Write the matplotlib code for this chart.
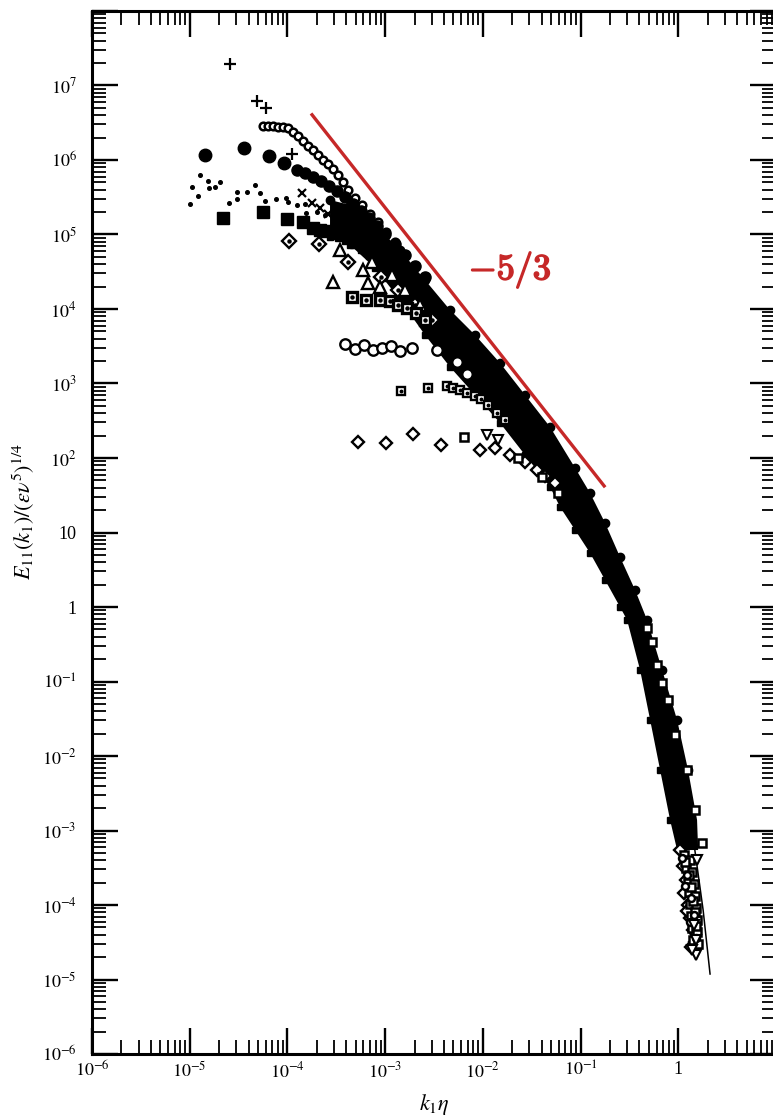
import numpy as np
import matplotlib
matplotlib.use("Agg")
import matplotlib.pyplot as plt
import matplotlib.patheffects as pe
from matplotlib.ticker import LogLocator, NullFormatter

plt.rcParams['font.family'] = ['Liberation Serif', 'DejaVu Serif']
plt.rcParams['mathtext.fontset'] = 'stix'

# all values are log10(k1*eta) and log10(E11/(eps nu^5)^1/4)
plus_k = [-4.588, -4.311, -4.219, -3.953]
plus_E = [7.289, 6.792, 6.698, 6.081]

small_o_k = [-4.250, -4.199, -4.147, -4.096, -4.045, -3.994, -3.943, -3.891, -3.840, -3.789, -3.738, -3.687,
             -3.636, -3.584, -3.533, -3.482, -3.431, -3.380, -3.308, -3.236, -3.155, -3.073, -2.991, -2.899]
small_o_E = [6.456, 6.456, 6.456, 6.443, 6.443, 6.430, 6.376, 6.322, 6.255, 6.188, 6.134, 6.067,
             6.000, 5.946, 5.879, 5.799, 5.705, 5.597, 5.490, 5.396, 5.275, 5.168, 5.034, 4.899]

filled_o_k = [-4.843, -4.444, -4.188, -4.035, -3.902, -3.820, -3.738, -3.656, -3.574, -3.492, -3.410, -3.329,
              -3.247, -3.165, -3.083, -3.001, -2.899, -2.796, -2.694, -2.592]
filled_o_E = [6.067, 6.161, 6.054, 5.960, 5.866, 5.826, 5.772, 5.718, 5.651, 5.584, 5.503, 5.409,
              5.315, 5.221, 5.114, 5.007, 4.872, 4.725, 4.577, 4.430]

dot_k = [-4.997, -4.976, -4.915, -4.895, -4.813, -4.802, -4.741, -4.690, -4.598, -4.516, -4.516, -4.414,
         -4.332, -4.280, -4.229, -4.117, -4.014, -3.994, -3.902, -3.820, -3.810, -3.697, -3.615, -3.533]
dot_E = [5.409, 5.638, 5.517, 5.799, 5.718, 5.624, 5.638, 5.705, 5.423, 5.570, 5.477, 5.570,
         5.664, 5.557, 5.450, 5.477, 5.490, 5.436, 5.396, 5.409, 5.289, 5.302, 5.262, 5.195]

cross_k = [-3.851, -3.748, -3.666, -3.584, -3.492, -3.410, -3.339, -3.257, -3.175, -3.093]
cross_E = [5.557, 5.423, 5.356, 5.275, 5.195, 5.114, 5.047, 4.953, 4.859, 4.765]

fsq_k = [-4.659, -4.250, -4.004, -3.840, -3.738, -3.666, -3.595, -3.523, -3.451, -3.380, -3.298, -3.216,
         -3.134, -3.052, -2.950, -2.847]
fsq_E = [5.221, 5.302, 5.208, 5.168, 5.087, 5.060, 5.047, 5.020, 4.993, 4.953, 4.899, 4.832,
         4.752, 4.671, 4.577, 4.470]

ddot_k = [-3.984, -3.677, -3.380, -3.042, -2.868, -2.694, -2.520]
ddot_E = [4.913, 4.872, 4.631, 4.430, 4.255, 4.054, 3.852]

tri_k = [-3.533, -3.462, -3.226, -3.175, -3.134, -3.052, -2.929, -2.796, -2.643]
tri_E = [4.362, 4.792, 4.523, 4.349, 4.631, 4.295, 4.456, 4.255, 4.054]

sqdot_k = [-3.339, -3.196, -3.052, -2.950, -2.868, -2.776, -2.684, -2.592]
sqdot_E = [4.161, 4.121, 4.121, 4.107, 4.054, 4.013, 3.946, 3.852]

open_o_k = [-3.410, -3.308, -3.216, -3.124, -3.032, -2.940, -2.847, -2.725, -2.469, -2.264, -2.162]
open_o_E = [3.530, 3.463, 3.517, 3.450, 3.477, 3.503, 3.436, 3.477, 3.450, 3.289, 3.128]

ssqdot_k = [-2.837, -2.561, -2.366, -2.305, -2.233, -2.162, -2.080, -2.018, -1.947, -1.855, -1.773]
ssqdot_E = [2.899, 2.940, 2.966, 2.940, 2.913, 2.872, 2.832, 2.792, 2.711, 2.604, 2.510]

diam_k = [-3.277, -2.991, -2.714, -2.428, -2.029, -1.875, -1.722, -1.568, -1.445, -1.363, -1.261, 0.018, 0.049,
          0.080, 0.059, 0.100, 0.121, 0.151, 0.172, 0.090, 0.131]
diam_E = [2.215, 2.201, 2.322, 2.174, 2.107, 2.134, 2.040, 1.946, 1.839, 1.758, 1.664, -3.262, -3.477,
          -3.664, -3.839, -4.000, -4.174, -4.336, -4.497, -4.080, -4.560]

osq_k = [-2.192, -1.640, -1.394, -1.230, -0.319, -0.268, -0.217, -0.166, -0.105, -0.033, 0.090, 0.172, 0.244,
         0.059, 0.121, 0.080, 0.141, 0.100, 0.161, 0.110, 0.172, 0.121, 0.182, 0.131, 0.192, 0.141, 0.192,
         0.151, 0.203, 0.070, 0.110, 0.131, 0.151, 0.172, 0.182]
osq_E = [2.282, 2.000, 1.745, 1.530, -0.282, -0.470, -0.779, -1.020, -1.248, -1.718, -2.188, -2.725, -3.168,
         -3.329, -3.396, -3.503, -3.557, -3.664, -3.718, -3.826, -3.879, -3.987, -4.040, -4.148, -4.201, -4.309,
         -4.362, -4.470, -4.523, -3.420, -3.600, -3.760, -3.940, -4.100, -4.280]

so_k = [0.038, 0.090, 0.131, 0.161, 0.182, 0.070, 0.121]
so_E = [-3.369, -3.597, -3.906, -4.134, -4.443, -3.740, -4.230]

dtri_k = [-1.957, -1.844, 0.192, 0.161, 0.182, 0.182, 0.141]
dtri_E = [2.309, 2.242, -3.396, -4.268, -4.470, -4.671, -4.604]

# outline of the region where the markers overlap into solid black
band_upper_k = [-3.564, -3.359, -3.103, -2.847, -2.592, -2.336, -2.080, -1.824, -1.568, -1.312, -1.056, -0.903,
                -0.749, -0.596, -0.442, -0.319, -0.165, -0.012, 0.100, 0.192, 0.203]
band_upper_E = [5.463, 5.396, 5.128, 4.792, 4.389, 3.987, 3.651, 3.275, 2.846, 2.416, 1.866, 1.530,
                1.128, 0.671, 0.228, -0.174, -0.846, -1.517, -2.188, -2.859, -3.262]
band_lower_k = [-0.012, -0.084, -0.186, -0.288, -0.391, -0.524, -0.596, -0.749, -0.903, -1.056, -1.210,
                -1.312, -1.568, -1.824, -2.080, -2.336, -2.592, -2.847, -3.103, -3.359, -3.564]
band_lower_E = [-3.262, -2.859, -2.188, -1.517, -0.846, -0.174, 0.0, 0.362, 0.725, 1.034, 1.342,
                1.611, 2.040, 2.470, 2.846, 3.221, 3.651, 4.121, 4.550, 4.859, 4.966]

model_k = [-0.288, -0.033, 0.141, 0.254, 0.325]
model_E = [-0.846, -2.054, -2.993, -4.067, -4.926]

ref_k = [-3.748, -0.759]
ref_A = 0.36  # log10 of the -5/3 line prefactor

xtick_labels = ['$10^{-6}$', '$10^{-5}$', '$10^{-4}$', '$10^{-3}$', '$10^{-2}$', '$10^{-1}$', '1', '']
ytick_labels = ['$10^{-6}$', '$10^{-5}$', '$10^{-4}$', '$10^{-3}$', '$10^{-2}$', '$10^{-1}$', '1', '10',
                '$10^{2}$', '$10^{3}$', '$10^{4}$', '$10^{5}$', '$10^{6}$', '$10^{7}$', '']


def p(a):
    return 10.0 ** np.asarray(a, dtype=float)


fig = plt.figure(figsize=(7.73, 11.2), dpi=100)
ax = fig.add_axes([0.119, 0.0589, 0.8849, 0.9313])
ax.set_xscale('log')
ax.set_yscale('log')

# dense overlapping region, edges roughened by the markers sitting on them
ax.fill(p(band_upper_k + band_lower_k), p(band_upper_E + band_lower_E), color='black', lw=0, zorder=2)
ax.plot(p(band_upper_k[:-2]), p(band_upper_E[:-2]), ls='none', marker='o', ms=6, color='black', zorder=2)
ax.plot(p(band_lower_k[1:]), p(band_lower_E[1:]), ls='none', marker='s', ms=5, color='black', zorder=2)
ax.plot(p(model_k), p(model_E), color='black', lw=1.1, zorder=2)

k = dict(ls='none', color='black', zorder=3)
ax.plot(p(plus_k), p(plus_E), marker='+', ms=8, mew=1.6, **k)
ax.plot(p(small_o_k), p(small_o_E), marker='o', ms=5.5, mfc='white', mew=1.8, **k)
ax.plot(p(filled_o_k[:4]), p(filled_o_E[:4]), marker='o', ms=9, **k)
ax.plot(p(filled_o_k[4:]), p(filled_o_E[4:]), marker='o', ms=8, **k)
ax.plot(p(dot_k), p(dot_E), marker='o', ms=2.6, **k)
ax.plot(p(cross_k), p(cross_E), marker='x', ms=6, mew=1.6, **k)
ax.plot(p(fsq_k), p(fsq_E), marker='s', ms=8, **k)
ax.plot(p(ddot_k), p(ddot_E), marker='D', ms=7, mfc='white', mew=1.7, **k)
ax.plot(p(ddot_k), p(ddot_E), marker='o', ms=2.2, **k)
ax.plot(p(tri_k), p(tri_E), marker='^', ms=8.5, mfc='white', mew=1.7, **k)
ax.plot(p(sqdot_k), p(sqdot_E), marker='s', ms=7, mfc='white', mew=2.4, **k)
ax.plot(p(sqdot_k), p(sqdot_E), marker='o', ms=2.2, **k)
ax.plot(p(open_o_k), p(open_o_E), marker='o', ms=7.5, mfc='white', mew=1.7, **k)
ax.plot(p(ssqdot_k), p(ssqdot_E), marker='s', ms=6, mfc='white', mew=1.7, **k)
ax.plot(p(ssqdot_k), p(ssqdot_E), marker='o', ms=1.8, **k)
ax.plot(p(diam_k), p(diam_E), marker='D', ms=6.5, mfc='white', mew=1.7, **k)
ax.plot(p(osq_k), p(osq_E), marker='s', ms=5.5, mfc='white', mew=1.8, **k)
ax.plot(p(so_k), p(so_E), marker='o', ms=5, mfc='white', mew=1.8, **k)
ax.plot(p(dtri_k), p(dtri_E), marker='v', ms=6.5, mfc='white', mew=1.5, **k)

# -5/3 reference
red = '#c62828'
rk = p(ref_k)
ax.plot(rk, 10 ** ref_A * rk ** (-5.0 / 3.0), color=red, lw=2.4, zorder=4)
ax.text(10 ** -1.722, 10 ** 4.523, r'$\mathbf{-5/3}$', color=red, fontsize=26,
        ha='center', va='center', math_fontfamily='cm', zorder=5,
        path_effects=[pe.withStroke(linewidth=1.2, foreground=red)])

ax.set_xlim(1e-6, 1e1)
ax.set_ylim(1e-6, 1e8)
ax.set_xticks(10.0 ** np.arange(-6, 2))
ax.set_xticklabels(xtick_labels)
ax.set_yticks(10.0 ** np.arange(-6, 9))
ax.set_yticklabels(ytick_labels)
ax.xaxis.set_minor_locator(LogLocator(base=10, subs=np.arange(2, 10), numticks=50))
ax.yaxis.set_minor_locator(LogLocator(base=10, subs=np.arange(2, 10), numticks=50))
ax.xaxis.set_minor_formatter(NullFormatter())
ax.yaxis.set_minor_formatter(NullFormatter())
ax.tick_params(which='major', direction='in', length=19, width=1.7, top=True, right=True, labelsize=13)
ax.tick_params(which='minor', direction='in', length=10, width=1.3, top=True, right=True)
ax.tick_params(axis='y', which='major', pad=11)
ax.tick_params(axis='x', which='major', pad=5)
for s in ax.spines.values():
    s.set_linewidth(2.2)

ax.set_xlabel(r'$k_1\eta$', fontsize=16, labelpad=8)
ax.set_ylabel(r'$E_{11}(k_1)/(\varepsilon\nu^5)^{1/4}$', fontsize=16)
ax.yaxis.set_label_coords(-0.08, 0.52)

fig.savefig('out.png', dpi=100)
